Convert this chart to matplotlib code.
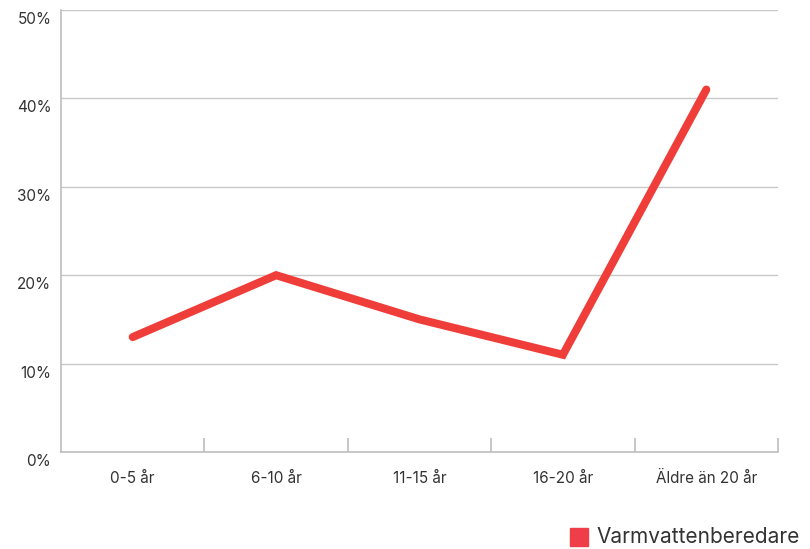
import matplotlib
matplotlib.use("Agg")
import matplotlib.pyplot as plt
import matplotlib.transforms as mtransforms
from matplotlib.ticker import FixedLocator, NullFormatter
from matplotlib.patches import Rectangle

plt.rcParams['font.family'] = ['Inter', 'DejaVu Sans']

categories = ["0-5 år", "6-10 år", "11-15 år", "16-20 år", "Äldre än 20 år"]
values = [13, 20, 15, 11, 41]
series_name = "Varmvattenberedare"
y_ticks = [0, 10, 20, 30, 40, 50]
y_labels = ["0%", "10%", "20%", "30%", "40%", "50%"]

line_color = "#EF3E39"
grid_color = "#C8C8C8"
text_color = "#333333"

fig = plt.figure(figsize=(8.10, 5.49), dpi=100)
ax = fig.add_axes([61/810, 1 - 452/549, 717/810, 442/549])

x = list(range(len(categories)))
ax.plot(x, values, color=line_color, lw=5.8, solid_capstyle='round',
        solid_joinstyle='miter', zorder=3)

ax.set_xlim(-0.5, len(categories) - 0.5)
ax.set_ylim(0, 50)

# horizontal grid
for t in y_ticks[1:]:
    ax.axhline(t, color=grid_color, lw=1.0, zorder=1)

for s in ["top", "right"]:
    ax.spines[s].set_visible(False)
for s in ["left", "bottom"]:
    ax.spines[s].set_color("#BDBDBD")
    ax.spines[s].set_linewidth(1.2)

ax.set_yticks(y_ticks)
ax.set_yticklabels(y_labels)
ax.tick_params(axis='y', length=0, pad=7, labelsize=11, labelcolor=text_color)

# category labels centered, boundary ticks drawn inward
ax.set_xticks(x)
ax.set_xticklabels(categories)
ax.tick_params(axis='x', which='major', length=0, pad=14, labelsize=11,
               labelcolor=text_color)
ax.xaxis.set_minor_locator(FixedLocator([i + 0.5 for i in x]))
ax.xaxis.set_minor_formatter(NullFormatter())
ax.tick_params(axis='x', which='minor', direction='in', length=10,
               width=1.2, color="#BDBDBD")

# y labels sit a little below their gridlines
offset = mtransforms.ScaledTranslation(0, -8/100, fig.dpi_scale_trans)
for lab in ax.get_yticklabels():
    lab.set_transform(lab.get_transform() + offset)

# legend
fig.patches.append(Rectangle((570/810, 1 - 546/549), 18/810, 18/549,
                             transform=fig.transFigure, color="#EF3E49"))
fig.text(596/810, 1 - 537/549, series_name, fontsize=15, color=text_color,
         va='center', ha='left')

fig.savefig("out.png", dpi=100, facecolor="white")
